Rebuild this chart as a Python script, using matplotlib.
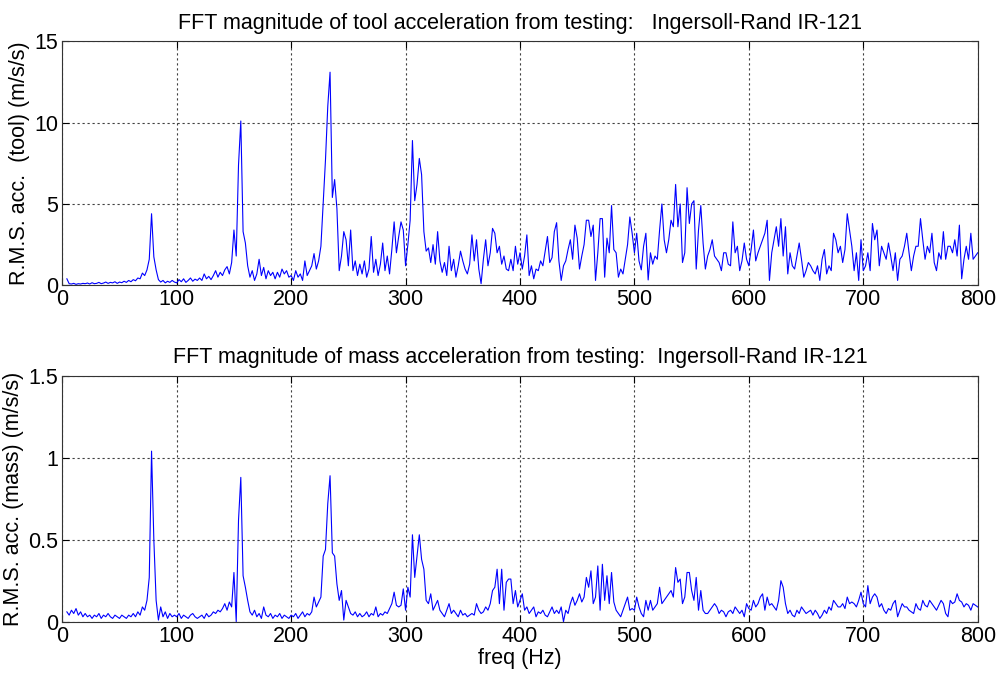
import numpy as np
from matplotlib import pyplot as plt

# FFT magnitude spectra, 2 Hz bins from 4 Hz to 800 Hz
freq = np.arange(4, 801, 2)

tool_acc = [
    0.40, 0.10, 0.08, 0.12, 0.06, 0.10, 0.08, 0.12,
    0.10, 0.14, 0.08, 0.16, 0.10, 0.12, 0.18, 0.10, 0.14, 0.20,
    0.12, 0.18, 0.15, 0.22, 0.12, 0.20, 0.16, 0.25, 0.18, 0.30,
    0.22, 0.35, 0.28, 0.45, 0.40, 0.75, 0.60, 0.95, 1.60, 4.40,
    1.75, 0.95, 0.35, 0.20, 0.30, 0.15, 0.25, 0.18, 0.30, 0.20,
    0.15, 0.35, 0.22, 0.40, 0.18, 0.30, 0.45, 0.25, 0.38, 0.30,
    0.45, 0.30, 0.70, 0.40, 0.55, 0.35, 0.60, 0.90, 0.50, 0.80,
    0.60, 0.95, 1.15, 0.70, 1.40, 3.40, 1.80, 7.40, 10.10, 3.30,
    2.60, 1.20, 0.50, 0.90, 0.30, 0.70, 1.60, 0.60, 1.10, 0.40,
    0.90, 0.60, 0.80, 0.40, 0.80, 0.50, 1.00, 0.70, 0.90, 0.50,
    0.60, 0.30, 0.90, 0.50, 0.70, 0.30, 1.50, 0.60, 0.90, 1.20,
    1.95, 1.00, 1.50, 2.40, 5.00, 7.70, 11.00, 13.10, 5.40, 6.50,
    4.70, 0.90, 1.80, 3.30, 2.80, 1.20, 3.40, 0.90, 1.50, 0.60,
    1.30, 0.70, 1.50, 0.50, 1.00, 3.00, 0.80, 1.60, 0.60, 1.30,
    2.60, 0.90, 1.80, 0.70, 2.20, 3.90, 2.00, 3.00, 3.90, 3.40,
    1.20, 2.50, 4.00, 8.90, 5.20, 6.20, 7.80, 6.80, 3.30, 2.10,
    2.30, 1.40, 2.50, 1.30, 3.30, 1.50, 0.80, 1.40, 0.60, 2.40,
    0.90, 1.60, 0.50, 1.20, 2.10, 1.50, 1.00, 0.70, 1.30, 3.10,
    1.50, 2.80, 1.00, 0.10, 1.60, 2.80, 1.20, 2.00, 3.50, 3.20,
    2.00, 2.40, 1.30, 1.80, 1.00, 0.90, 1.60, 0.90, 2.40, 1.30,
    2.00, 1.00, 1.80, 3.10, 0.60, 1.20, 0.40, 1.00, 0.90, 1.50,
    1.20, 2.10, 3.00, 1.40, 1.70, 3.30, 3.85, 1.50, 0.30, 1.20,
    1.50, 2.20, 2.80, 1.60, 3.70, 2.90, 1.00, 1.80, 2.50, 4.00,
    4.00, 3.00, 3.70, 0.30, 2.00, 4.10, 4.10, 0.50, 2.90, 2.00,
    4.90, 2.20, 2.00, 0.50, 1.00, 0.70, 1.60, 2.50, 4.20, 3.20,
    2.00, 3.20, 1.50, 0.95, 2.40, 3.20, 0.33, 2.00, 1.30, 1.80,
    1.60, 3.40, 5.00, 2.80, 2.00, 2.80, 4.00, 3.60, 6.20, 3.60,
    5.00, 1.40, 2.00, 6.00, 3.80, 5.00, 5.20, 1.00, 3.40, 4.90,
    2.60, 1.00, 1.80, 2.20, 2.80, 1.80, 1.60, 1.40, 0.90, 2.00,
    2.00, 1.30, 1.20, 3.90, 2.00, 2.40, 0.90, 1.50, 2.60, 1.60,
    1.20, 2.20, 3.40, 1.50, 2.00, 2.40, 2.80, 3.20, 4.00, 0.30,
    2.00, 2.80, 3.60, 2.40, 4.10, 1.80, 3.60, 0.70, 2.00, 1.20,
    1.00, 1.80, 2.60, 1.60, 0.50, 0.90, 1.40, 1.20, 0.90, 0.70,
    1.20, 0.30, 1.60, 2.20, 0.70, 1.20, 0.90, 3.20, 2.80, 2.00,
    2.40, 1.40, 2.20, 4.40, 3.40, 2.40, 0.90, 2.00, 0.30, 2.80,
    0.90, 1.20, 2.00, 0.90, 3.80, 2.80, 3.40, 1.20, 2.40, 2.00,
    1.60, 2.60, 1.80, 0.90, 2.00, 0.30, 1.60, 1.80, 2.40, 3.20,
    2.00, 0.90, 1.80, 2.40, 2.40, 4.10, 2.80, 1.60, 2.40, 2.00,
    3.20, 1.40, 0.90, 2.00, 1.60, 3.30, 1.60, 2.40, 2.40, 2.00,
    2.80, 1.80, 3.70, 0.40, 1.60, 2.40, 1.60, 3.20, 1.60, 1.80,
    2.00,
]

mass_acc = [
    0.06, 0.04, 0.07, 0.05, 0.08, 0.04, 0.06, 0.03,
    0.05, 0.03, 0.04, 0.02, 0.04, 0.03, 0.05, 0.02, 0.04, 0.03,
    0.05, 0.03, 0.02, 0.04, 0.03, 0.02, 0.04, 0.03, 0.02, 0.04,
    0.03, 0.05, 0.03, 0.06, 0.04, 0.09, 0.07, 0.13, 0.27, 1.04,
    0.50, 0.13, 0.01, 0.09, 0.03, 0.06, 0.02, 0.05, 0.03, 0.04,
    0.03, 0.05, 0.02, 0.04, 0.03, 0.02, 0.04, 0.05, 0.03, 0.02,
    0.03, 0.04, 0.02, 0.05, 0.03, 0.04, 0.06, 0.05, 0.07, 0.06,
    0.08, 0.11, 0.07, 0.12, 0.09, 0.30, 0.00, 0.62, 0.88, 0.28,
    0.21, 0.13, 0.06, 0.04, 0.07, 0.03, 0.05, 0.02, 0.09, 0.04,
    0.03, 0.05, 0.02, 0.04, 0.03, 0.05, 0.02, 0.04, 0.03, 0.02,
    0.04, 0.03, 0.05, 0.02, 0.04, 0.06, 0.03, 0.05, 0.04, 0.06,
    0.15, 0.09, 0.12, 0.15, 0.40, 0.44, 0.72, 0.89, 0.42, 0.40,
    0.23, 0.13, 0.19, 0.01, 0.13, 0.09, 0.05, 0.04, 0.06, 0.03,
    0.05, 0.03, 0.04, 0.06, 0.03, 0.05, 0.04, 0.09, 0.03, 0.05,
    0.04, 0.06, 0.05, 0.08, 0.11, 0.18, 0.10, 0.09, 0.10, 0.20,
    0.07, 0.21, 0.15, 0.53, 0.27, 0.40, 0.53, 0.38, 0.32, 0.13,
    0.11, 0.17, 0.07, 0.10, 0.13, 0.07, 0.05, 0.03, 0.07, 0.11,
    0.05, 0.07, 0.05, 0.03, 0.07, 0.04, 0.05, 0.03, 0.04, 0.05,
    0.04, 0.11, 0.07, 0.05, 0.06, 0.09, 0.07, 0.11, 0.19, 0.21,
    0.32, 0.11, 0.32, 0.07, 0.24, 0.26, 0.26, 0.11, 0.19, 0.09,
    0.13, 0.17, 0.07, 0.09, 0.05, 0.07, 0.09, 0.03, 0.06, 0.05,
    0.07, 0.04, 0.03, 0.06, 0.09, 0.05, 0.07, 0.05, 0.09, 0.00,
    0.07, 0.05, 0.11, 0.15, 0.10, 0.13, 0.17, 0.12, 0.15, 0.27,
    0.21, 0.31, 0.11, 0.15, 0.34, 0.07, 0.35, 0.13, 0.28, 0.11,
    0.30, 0.12, 0.07, 0.05, 0.03, 0.07, 0.11, 0.15, 0.07, 0.08,
    0.07, 0.15, 0.09, 0.05, 0.03, 0.13, 0.07, 0.13, 0.07, 0.09,
    0.11, 0.21, 0.11, 0.13, 0.15, 0.17, 0.19, 0.15, 0.33, 0.24,
    0.26, 0.11, 0.15, 0.30, 0.30, 0.19, 0.13, 0.27, 0.07, 0.19,
    0.07, 0.05, 0.05, 0.07, 0.09, 0.11, 0.09, 0.05, 0.07, 0.06,
    0.03, 0.06, 0.07, 0.05, 0.09, 0.07, 0.05, 0.07, 0.03, 0.11,
    0.08, 0.07, 0.13, 0.09, 0.11, 0.15, 0.17, 0.07, 0.15, 0.10,
    0.11, 0.09, 0.07, 0.13, 0.25, 0.21, 0.11, 0.05, 0.07, 0.04,
    0.03, 0.07, 0.05, 0.09, 0.07, 0.05, 0.06, 0.07, 0.04, 0.07,
    0.05, 0.02, 0.04, 0.07, 0.05, 0.09, 0.07, 0.13, 0.11, 0.09,
    0.09, 0.11, 0.08, 0.15, 0.11, 0.12, 0.11, 0.09, 0.13, 0.18,
    0.11, 0.09, 0.22, 0.11, 0.15, 0.17, 0.15, 0.09, 0.11, 0.07,
    0.05, 0.08, 0.07, 0.11, 0.13, 0.03, 0.07, 0.11, 0.09, 0.09,
    0.07, 0.06, 0.05, 0.11, 0.08, 0.07, 0.13, 0.10, 0.09, 0.13,
    0.11, 0.09, 0.07, 0.10, 0.13, 0.11, 0.05, 0.03, 0.13, 0.11,
    0.12, 0.17, 0.13, 0.12, 0.09, 0.11, 0.10, 0.07, 0.11, 0.10,
    0.09,
]

x_ticks = [0, 100, 200, 300, 400, 500, 600, 700, 800]
tool_ticks = [0, 5, 10, 15]
tool_tick_labels = ['0', '5', '10', '15']
mass_ticks = [0, 0.5, 1.0, 1.5]
mass_tick_labels = ['0', '0.5', '1', '1.5']

plt.rcParams['font.family'] = ['Liberation Sans', 'DejaVu Sans']
FS = 15.5


def spectrumAxes(fig, rect, x, y, yticks, ylabels, title, ylabel):
    ax = fig.add_axes(rect)
    ax.plot(x, y, color='#0000ff', linewidth=0.8)
    ax.set_xlim(0, 800)
    ax.set_ylim(yticks[0], yticks[-1])
    ax.set_xticks(x_ticks)
    ax.set_xticklabels([str(t) for t in x_ticks], fontsize=FS)
    ax.set_yticks(yticks)
    ax.set_yticklabels(ylabels, fontsize=FS)
    ax.tick_params(direction='in', top=True, right=True, length=5,
                   width=0.8, pad=3, colors='black')
    ax.grid(True, linestyle=(0, (2, 2.5)), color='#404040', linewidth=0.8)
    for s in ax.spines.values():
        s.set_linewidth(0.8)
        s.set_color('#333333')
    ax.set_title(title, fontsize=FS, pad=9)
    ax.set_ylabel(ylabel, fontsize=FS, labelpad=3)
    return ax


def main():
    fig = plt.figure(figsize=(10, 6.79), dpi=100)

    spectrumAxes(fig, [0.0623, 0.5798, 0.9154, 0.3594], freq, tool_acc,
                 tool_ticks, tool_tick_labels,
                 'FFT magnitude of tool acceleration from testing:   Ingersoll-Rand IR-121',
                 'R.M.S. acc.  (tool) (m/s/s)')

    ax2 = spectrumAxes(fig, [0.0623, 0.0844, 0.9154, 0.3623], freq, mass_acc,
                       mass_ticks, mass_tick_labels,
                       'FFT magnitude of mass acceleration from testing:  Ingersoll-Rand IR-121',
                       'R.M.S. acc. (mass) (m/s/s)')
    ax2.set_xlabel('freq (Hz)', fontsize=FS, labelpad=1)

    fig.savefig('out.png', dpi=100)


if __name__ == '__main__':
    main()
